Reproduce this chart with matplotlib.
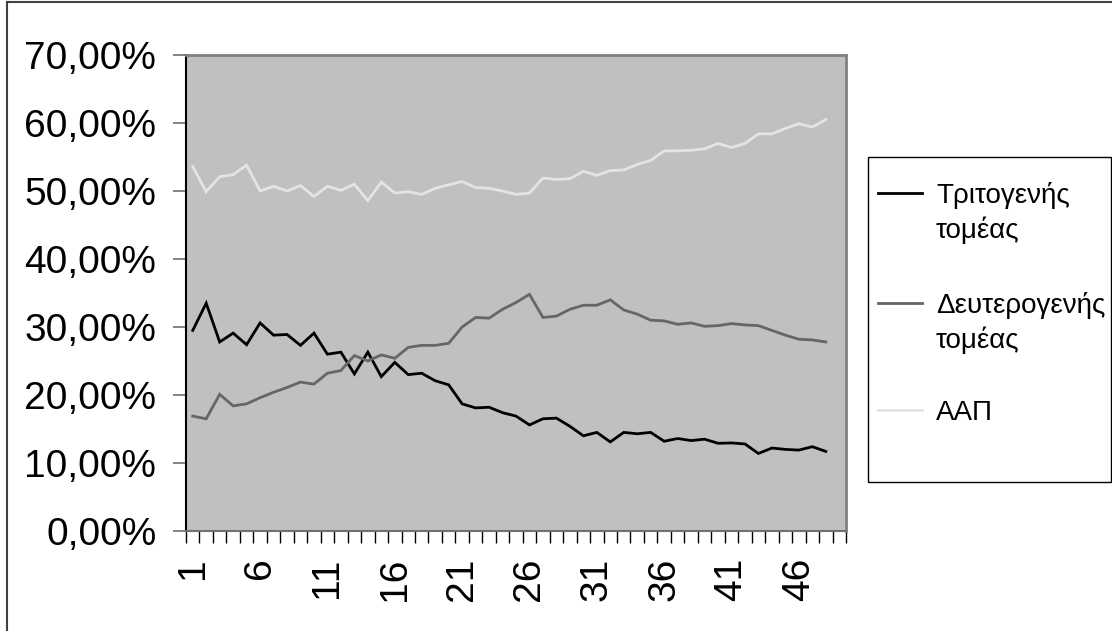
import matplotlib
matplotlib.use("Agg")
import matplotlib.pyplot as plt
from matplotlib.lines import Line2D
from matplotlib.patches import Rectangle
from matplotlib.ticker import FuncFormatter, MultipleLocator

plt.rcParams['font.family'] = ['Liberation Sans', 'DejaVu Sans']

# values (percent)
tertiary = [29.5, 33.5, 27.8, 29.1, 27.4, 30.6, 28.8, 28.9, 27.3, 29.1,
            26.0, 26.3, 23.1, 26.3, 22.7, 24.8, 23.0, 23.2, 22.1, 21.5,
            18.7, 18.1, 18.2, 17.4, 16.9, 15.6, 16.5, 16.6, 15.4, 14.0,
            14.5, 13.1, 14.5, 14.3, 14.5, 13.2, 13.6, 13.3, 13.5, 12.9,
            12.95, 12.8, 11.4, 12.2, 12.0, 11.9, 12.4, 11.7]
secondary = [16.9, 16.5, 20.1, 18.4, 18.7, 19.6, 20.4, 21.1, 21.9, 21.6,
             23.2, 23.6, 25.8, 25.0, 25.9, 25.4, 27.0, 27.3, 27.3, 27.6,
             30.0, 31.4, 31.3, 32.6, 33.6, 34.8, 31.4, 31.6, 32.6, 33.2,
             33.2, 34.0, 32.5, 31.9, 31.0, 30.9, 30.4, 30.6, 30.1, 30.2,
             30.5, 30.3, 30.2, 29.5, 28.8, 28.2, 28.1, 27.8]
gdp = [53.6, 49.9, 52.1, 52.4, 53.8, 50.0, 50.7, 50.0, 50.8, 49.2,
       50.7, 50.1, 51.0, 48.6, 51.3, 49.7, 49.9, 49.5, 50.4, 50.9,
       51.4, 50.5, 50.4, 50.0, 49.5, 49.7, 51.9, 51.7, 51.8, 52.9,
       52.3, 53.0, 53.1, 53.9, 54.5, 55.9, 55.9, 56.0, 56.2, 57.0,
       56.4, 57.0, 58.4, 58.4, 59.2, 59.9, 59.4, 60.5]
n_categories = 49
series_names = [("Τριτογενής", "τομέας"), ("Δευτερογενής", "τομέας"), ("ΑΑΠ", None)]
series_colors = ['#000000', '#666666', '#e4e4e4']

W, H = 1112, 631
fig = plt.figure(figsize=(W / 100, H / 100), dpi=100)


def fx(x):
    return x / W


def fy(y):
    return 1 - y / H


ax = fig.add_axes([fx(186), fy(531), fx(846) - fx(186), fy(55) - fy(531)])
ax.set_facecolor('#c0c0c0')

x = list(range(1, len(tertiary) + 1))
for vals, col in zip([tertiary, secondary, gdp], series_colors):
    ax.plot(x, [v / 100 for v in vals], color=col, lw=2.0, solid_joinstyle='miter')

ax.set_xlim(0.5, n_categories + 0.5)
ax.set_ylim(0, 0.70)

ax.yaxis.set_major_locator(MultipleLocator(0.1))
ax.yaxis.set_major_formatter(FuncFormatter(lambda v, p: f"{v * 100:.2f}%".replace('.', ',')))
ax.tick_params(axis='y', which='major', length=9.4, width=1.2, color='#707070',
               labelsize=28, pad=12)

ax.set_xticks(range(1, n_categories + 1, 5))
ax.set_xticklabels([str(i) for i in range(1, n_categories + 1, 5)], rotation=90)
ax.set_xticks([i + 0.5 for i in range(0, n_categories + 1)], minor=True)
ax.tick_params(axis='x', which='major', length=0, labelsize=28, pad=19)
ax.tick_params(axis='x', which='minor', length=8.8, width=1.0, color='#000000')

ax.spines['left'].set_color('#000000')
ax.spines['left'].set_linewidth(1.5)
ax.spines['bottom'].set_color('#707070')
ax.spines['bottom'].set_linewidth(1.5)
for s in ['top', 'right']:
    ax.spines[s].set_color('#808080')
    ax.spines[s].set_linewidth(2.0)

# outer chart border (top and left visible)
fig.add_artist(Line2D([fx(7), 1], [fy(2), fy(2)], color='#404040', lw=1.5))
fig.add_artist(Line2D([fx(7), fx(7)], [fy(2), 0], color='#404040', lw=1.5))

# legend box
fig.add_artist(Rectangle((fx(868), fy(482)), fx(1111) - fx(868), fy(157) - fy(482),
                         transform=fig.transFigure, facecolor='white',
                         edgecolor='#000000', lw=1.0))
handle_y = [193, 303, 410]
for (l1, l2), col, hy in zip(series_names, series_colors, handle_y):
    fig.add_artist(Line2D([fx(878), fx(922)], [fy(hy), fy(hy)], color=col, lw=2.0))
    fig.text(fx(936), fy(hy + 10), l1, fontsize=20, va='baseline', ha='left')
    if l2:
        fig.text(fx(936), fy(hy + 45), l2, fontsize=20, va='baseline', ha='left')

fig.savefig('out.png', dpi=100, facecolor='white')
